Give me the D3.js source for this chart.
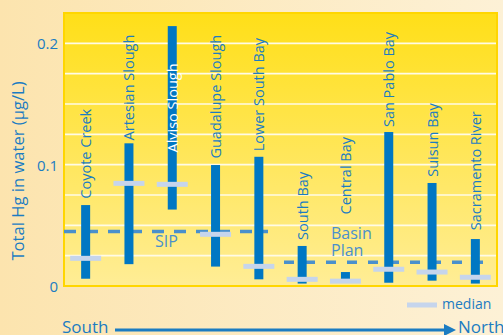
<!DOCTYPE html>
<html><head><meta charset="utf-8">
<script src="https://cdn.jsdelivr.net/npm/d3@7"></script>
<style>
html,body{margin:0;padding:0;}
svg{display:block;}
text{font-family:"Open Sans","DejaVu Sans",sans-serif;}
</style></head>
<body>
<svg id="chart" width="503" height="335"></svg>
<script>
const categories = ["Coyote Creek","Artesian Slough","Alviso Slough","Guadalupe Slough","Lower South Bay","South Bay","Central Bay","San Pablo Bay","Suisun Bay","Sacramento River"];
const minValues = [0.006,0.018,0.063,0.016,0.0055,0.002,0.003,0.0027,0.0044,0.002];
const maxValues = [0.0667,0.1176,0.2142,0.0997,0.1065,0.033,0.0115,0.1269,0.0849,0.0387];
const medianValues = [0.0228,0.0846,0.0838,0.0426,0.0162,0.0055,0.004,0.0138,0.0115,0.0072];
const labelBase = [0.072,0.12,0.11,0.105,0.111,0.038,0.059,0.131,0.09,0.046];
const yTickValues = [0,0.1,0.2];
const yTickLabels = ["0","0.1","0.2"];
const gridValues = [0.025,0.05,0.075,0.1,0.125,0.15,0.175,0.2];
const sipValue = 0.045;
const basinValue = 0.0195;

const svg = d3.select("#chart");
const W = 503, H = 335;
const defs = svg.append("defs");
const bg = defs.append("linearGradient").attr("id","bg").attr("x1","0").attr("x2","1").attr("y1","0").attr("y2","0");
bg.append("stop").attr("offset","0").attr("stop-color","#fce4ae");
bg.append("stop").attr("offset","1").attr("stop-color","#fdf1d6");
const pg = defs.append("linearGradient").attr("id","pg").attr("x1","0").attr("x2","0").attr("y1","0").attr("y2","1");
pg.append("stop").attr("offset","0").attr("stop-color","#ffdf18");
pg.append("stop").attr("offset","1").attr("stop-color","#ffed96");

svg.append("rect").attr("width",W).attr("height",H).attr("fill","url(#bg)");

const x = d3.scaleBand().domain(categories).range([64,497]).padding(0);
const y = d3.scaleLinear().domain([0,0.225]).range([286,13]);

svg.append("rect").attr("x",64).attr("y",13).attr("width",433).attr("height",273)
  .attr("fill","url(#pg)").attr("stroke","#ffd600").attr("stroke-width",2);

svg.append("g").selectAll("line").data(gridValues).join("line")
  .attr("x1",65).attr("x2",496).attr("y1",d=>y(d)).attr("y2",d=>y(d))
  .attr("stroke","#fffbe6").attr("stroke-width",1.6);

// y axis labels
svg.append("g").selectAll("text").data(yTickValues).join("text")
  .attr("x",58).attr("y",d=>y(d)+2).attr("text-anchor","end").attr("dominant-baseline","middle")
  .attr("fill","#1b7cc2").attr("font-size",15).text((d,i)=>yTickLabels[i]);

svg.append("text").attr("transform","translate(24,171) rotate(-90)")
  .attr("text-anchor","middle").attr("fill","#1b7cc2").attr("font-size",16.6)
  .text("Total Hg in water (µg/L)");

// dashed reference lines
svg.append("line").attr("x1",64).attr("x2",268).attr("y1",y(sipValue)).attr("y2",y(sipValue))
  .attr("stroke","#4a90cc").attr("stroke-width",3.5).attr("stroke-dasharray","12,10");
svg.append("line").attr("x1",284).attr("x2",488).attr("y1",y(basinValue)).attr("y2",y(basinValue))
  .attr("stroke","#4a90cc").attr("stroke-width",3.5).attr("stroke-dasharray","10,11");

svg.append("text").attr("x",155).attr("y",y(sipValue)+11).attr("dominant-baseline","middle")
  .attr("fill","#4a90cc").attr("font-size",16).text("SIP");
svg.append("text").attr("x",331).attr("y",235).attr("dominant-baseline","middle")
  .attr("fill","#4a90cc").attr("font-size",16).text("Basin");
svg.append("text").attr("x",331).attr("y",252).attr("dominant-baseline","middle")
  .attr("fill","#4a90cc").attr("font-size",16).text("Plan");

// range bars
const bw = 9;
svg.append("g").selectAll("rect").data(categories).join("rect")
  .attr("x",d=>x(d)+x.bandwidth()/2-bw/2).attr("width",bw)
  .attr("y",(d,i)=>y(maxValues[i])).attr("height",(d,i)=>y(minValues[i])-y(maxValues[i]))
  .attr("fill","#0077c3");

// medians
svg.append("g").selectAll("rect").data(categories).join("rect")
  .attr("x",d=>x(d)+x.bandwidth()/2-15.5).attr("width",31)
  .attr("y",(d,i)=>y(medianValues[i])-2.5).attr("height",5)
  .attr("fill","#c6d5ec");

// category labels
svg.append("g").selectAll("text").data(categories).join("text")
  .attr("transform",(d,i)=>`translate(${x(d)+x.bandwidth()/2+5.5},${y(labelBase[i])}) rotate(-90)`)
  .attr("fill",(d,i)=>i===2?"#ffffff":"#1b7cc2").attr("font-size",14.5)
  .text(d=>d);

// legend
svg.append("rect").attr("x",407).attr("y",302.5).attr("width",30).attr("height",5).attr("fill","#c6d5ec");
svg.append("text").attr("x",442).attr("y",305).attr("dominant-baseline","middle")
  .attr("fill","#1b7cc2").attr("font-size",14).text("median");

// South -> North arrow
svg.append("text").attr("x",62).attr("y",328).attr("dominant-baseline","middle")
  .attr("fill","#1b7cc2").attr("font-size",17).text("South");
svg.append("line").attr("x1",115).attr("x2",446).attr("y1",330).attr("y2",330)
  .attr("stroke","#1b7cc2").attr("stroke-width",3.2);
svg.append("path").attr("d","M444,324 L456,330 L444,336 Z").attr("fill","#1b7cc2");
svg.append("text").attr("x",458).attr("y",328).attr("dominant-baseline","middle")
  .attr("fill","#1b7cc2").attr("font-size",17).text("North");
</script>
</body></html>
